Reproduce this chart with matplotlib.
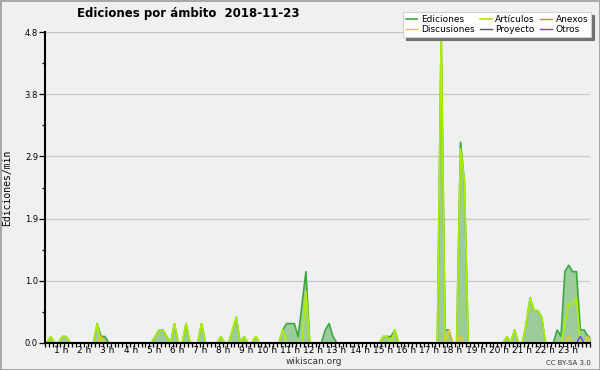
import numpy as np
import matplotlib.pyplot as plt

# 10-minute bins from 00:00, values in edits/min
# one row = 2 hours (12 bins)
ediciones = [
    0, 0.1, 0, 0, 0.1, 0.1, 0, 0, 0, 0, 0, 0,
    0, 0.3, 0.1, 0.1, 0, 0, 0, 0, 0, 0, 0, 0,
    0, 0, 0, 0, 0.1, 0.2, 0.2, 0.1, 0, 0.3, 0, 0,
    0.3, 0, 0, 0, 0.3, 0, 0, 0, 0, 0.1, 0, 0,
    0.2, 0.4, 0, 0.1, 0, 0, 0.1, 0, 0, 0, 0, 0,
    0, 0.2, 0.3, 0.3, 0.3, 0.1, 0.6, 1.1, 0, 0, 0, 0,
    0.2, 0.3, 0.1, 0, 0, 0, 0, 0, 0, 0, 0, 0,
    0, 0, 0, 0.1, 0.1, 0.1, 0.2, 0, 0, 0, 0, 0,
    0, 0, 0, 0, 0, 0, 4.8, 0.2, 0.2, 0, 0, 3.1,
    2.5, 0, 0, 0, 0, 0, 0, 0, 0, 0, 0, 0.1,
    0, 0.2, 0, 0, 0.3, 0.7, 0.5, 0.5, 0.4, 0, 0, 0,
    0.2, 0.1, 1.1, 1.2, 1.1, 1.1, 0.2, 0.2, 0.1, 0.1,
]
articulos = [
    0, 0.1, 0, 0, 0.1, 0.1, 0, 0, 0, 0, 0, 0,
    0, 0.3, 0, 0, 0, 0, 0, 0, 0, 0, 0, 0,
    0, 0, 0, 0, 0.1, 0.2, 0.2, 0.1, 0, 0.3, 0, 0,
    0.3, 0, 0, 0, 0.3, 0, 0, 0, 0, 0.1, 0, 0,
    0.2, 0.4, 0, 0.1, 0, 0, 0.1, 0, 0, 0, 0, 0,
    0, 0.2, 0, 0, 0, 0, 0, 0.8, 0, 0, 0, 0,
    0, 0, 0, 0, 0, 0, 0, 0, 0, 0, 0, 0,
    0, 0, 0, 0.1, 0.1, 0, 0.2, 0, 0, 0, 0, 0,
    0, 0, 0, 0, 0, 0, 4.8, 0, 0, 0, 0, 3.0,
    2.5, 0, 0, 0, 0, 0, 0, 0, 0, 0, 0, 0.1,
    0, 0.2, 0, 0, 0.3, 0.7, 0.5, 0.5, 0.4, 0, 0, 0,
    0, 0, 0.3, 0.6, 0.6, 0.7, 0, 0, 0, 0,
]
anexos = [
    0, 0, 0, 0, 0, 0, 0, 0, 0, 0, 0, 0,
    0, 0, 0, 0, 0, 0, 0, 0, 0, 0, 0, 0,
    0, 0, 0, 0, 0, 0, 0, 0, 0, 0, 0, 0,
    0, 0, 0, 0, 0, 0, 0, 0, 0, 0, 0, 0,
    0, 0, 0, 0, 0, 0, 0, 0, 0, 0, 0, 0,
    0, 0, 0, 0, 0, 0, 0, 0, 0, 0, 0, 0,
    0, 0, 0, 0, 0, 0, 0, 0, 0, 0, 0, 0,
    0, 0, 0, 0, 0, 0, 0, 0, 0, 0, 0, 0,
    0, 0, 0, 0, 0, 0, 0, 0, 0, 0, 0, 0,
    0, 0, 0, 0, 0, 0, 0, 0, 0, 0, 0, 0,
    0, 0, 0, 0, 0, 0, 0, 0, 0, 0, 0, 0,
    0, 0, 0, 0, 0, 0, 0, 0, 0, 0,
]
discusiones = [
    0, 0, 0, 0, 0, 0, 0, 0, 0, 0, 0, 0,
    0, 0, 0.1, 0, 0, 0, 0, 0, 0, 0, 0, 0,
    0, 0, 0, 0, 0, 0, 0, 0, 0, 0, 0, 0,
    0, 0, 0, 0, 0, 0, 0, 0, 0, 0, 0, 0,
    0, 0, 0, 0, 0, 0, 0, 0, 0, 0, 0, 0,
    0, 0, 0, 0, 0, 0, 0, 0, 0, 0, 0, 0,
    0, 0, 0, 0, 0, 0, 0, 0, 0, 0, 0, 0,
    0, 0, 0, 0, 0, 0, 0, 0, 0, 0, 0, 0,
    0, 0, 0, 0, 0, 0, 0, 0, 0.2, 0, 0, 0.1,
    0, 0, 0, 0, 0, 0, 0, 0, 0, 0, 0, 0,
    0, 0, 0, 0, 0, 0, 0, 0, 0, 0, 0, 0,
    0, 0, 0, 0.1, 0, 0, 0, 0, 0.1, 0,
]
proyecto = [
    0, 0, 0, 0, 0, 0, 0, 0, 0, 0, 0, 0,
    0, 0, 0, 0, 0, 0, 0, 0, 0, 0, 0, 0,
    0, 0, 0, 0, 0, 0, 0, 0, 0, 0, 0, 0,
    0, 0, 0, 0, 0, 0, 0, 0, 0, 0, 0, 0,
    0, 0, 0, 0, 0, 0, 0, 0, 0, 0, 0, 0,
    0, 0, 0, 0, 0, 0, 0, 0, 0, 0, 0, 0,
    0, 0, 0, 0, 0, 0, 0, 0, 0, 0, 0, 0,
    0, 0, 0, 0, 0, 0, 0, 0, 0, 0, 0, 0,
    0, 0, 0, 0, 0, 0, 0, 0, 0, 0, 0, 0,
    0, 0, 0, 0, 0, 0, 0, 0, 0, 0, 0, 0,
    0, 0, 0, 0, 0, 0, 0, 0, 0, 0, 0, 0,
    0, 0, 0, 0, 0, 0, 0, 0, 0, 0,
]
otros = [
    0, 0, 0, 0, 0, 0, 0, 0, 0, 0, 0, 0,
    0, 0, 0, 0, 0, 0, 0, 0, 0, 0, 0, 0,
    0, 0, 0, 0, 0, 0, 0, 0, 0, 0, 0, 0,
    0, 0, 0, 0, 0, 0, 0, 0, 0, 0, 0, 0,
    0, 0, 0, 0, 0, 0, 0, 0, 0, 0, 0, 0,
    0, 0, 0, 0, 0, 0, 0, 0, 0, 0, 0, 0,
    0, 0, 0, 0, 0, 0, 0, 0, 0, 0, 0, 0,
    0, 0, 0, 0, 0, 0, 0, 0, 0, 0, 0, 0,
    0, 0, 0, 0, 0, 0, 0, 0, 0, 0, 0, 0,
    0, 0, 0, 0, 0, 0, 0, 0, 0, 0, 0, 0,
    0, 0, 0, 0, 0, 0, 0, 0, 0, 0, 0, 0,
    0, 0, 0, 0, 0, 0, 0.1, 0, 0, 0,
]

hours = list(range(1, 24))
hour_labels = [f'{h} h' for h in hours]
y_ticks = [0, 0.96, 1.92, 2.88, 3.84, 4.8]
y_labels = ['0.0', '1.0', '1.9', '2.9', '3.8', '4.8']

BG = '#eef0f2'
C_ED = '#3aa83a'
C_ART = '#b2ee00'
C_ANE = '#ff7744'
C_DIS = '#f5c518'
C_PRO = '#555555'
C_OTR = '#8833ee'

# bin centres in hours
t = (np.arange(len(ediciones)) + 0.5) / 6

fig = plt.figure(figsize=(6, 3.7), dpi=100, facecolor=BG,
                 edgecolor='#a8a8a8', linewidth=2)
ax = fig.add_axes([45 / 600, 1 - 343 / 370, 545 / 600, 311 / 370])
ax.set_facecolor(BG)

ax.fill_between(t, ediciones, 0, color='#9ccc9c', lw=0, zorder=1)
l_ed, = ax.plot(t, ediciones, color=C_ED, lw=1.2, label='Ediciones', zorder=2)
l_art, = ax.plot(t, articulos, color=C_ART, lw=1.2, label='Artículos', zorder=3)
l_ane, = ax.plot(t, anexos, color=C_ANE, lw=1.0, label='Anexos', zorder=3)
l_dis, = ax.plot(t, discusiones, color=C_DIS, lw=1.0, label='Discusiones', zorder=3)
l_pro, = ax.plot(t, proyecto, color=C_PRO, lw=1.0, label='Proyecto', zorder=3)
l_otr, = ax.plot(t, otros, color=C_OTR, lw=1.0, label='Otros', zorder=3)

ax.set_xlim(0, 23.5)
ax.set_ylim(0, 4.8)

ax.set_yticks(y_ticks, y_labels)
ax.set_yticks([0.48, 1.44, 2.4, 3.36, 4.32], minor=True)
ax.yaxis.grid(True, color='#c8c8c8', lw=0.9)
ax.set_axisbelow(True)

ax.set_xticks(hours, hour_labels)
ax.set_xticks(np.arange(0, 142) / 6, minor=True)
for lab in ax.get_xticklabels():
    lab.set_horizontalalignment('right')

ax.tick_params(axis='x', which='both', length=3, width=0.9, direction='out',
               labelsize=6.5, pad=-1, colors='black')
ax.tick_params(axis='y', which='major', length=4, width=0.9, labelsize=6, pad=1)
ax.tick_params(axis='y', which='minor', length=2, width=0.9)

for s in ['top', 'right']:
    ax.spines[s].set_visible(False)
for s in ['left', 'bottom']:
    ax.spines[s].set_linewidth(1.5)
    ax.spines[s].set_zorder(5)

ax.set_ylabel('Ediciones/min', family='DejaVu Sans Mono', fontsize=7, labelpad=9)

fig.text(0.313, 1 - 14 / 370, 'Ediciones por ámbito  2018-11-23',
         ha='center', va='center', fontsize=8.5, fontweight='bold')
fig.text(314 / 600, 1 - 362 / 370, 'wikiscan.org', ha='center', va='center',
         fontsize=6.5, color='#333333')
fig.text(591 / 600, 1 - 363 / 370, 'CC BY-SA 3.0', ha='right', va='center',
         fontsize=5, color='#333333')

leg = fig.legend([l_ed, l_dis, l_art, l_pro, l_ane, l_otr],
                 ['Ediciones', 'Discusiones', 'Artículos', 'Proyecto', 'Anexos', 'Otros'],
                 ncol=3, loc='upper right', bbox_to_anchor=(591 / 600, 1 - 12 / 370),
                 fontsize=6.5, frameon=True, fancybox=False, framealpha=1,
                 facecolor='white', edgecolor='#d0d0d0',
                 shadow={'color': '#707070', 'alpha': 1},
                 handlelength=1.3, handletextpad=0.4, columnspacing=0.6,
                 labelspacing=0.15, borderpad=0.3, borderaxespad=0)
leg.get_frame().set_linewidth(0.8)

fig.savefig('out.png', dpi=100, facecolor=BG, edgecolor='#a8a8a8')
